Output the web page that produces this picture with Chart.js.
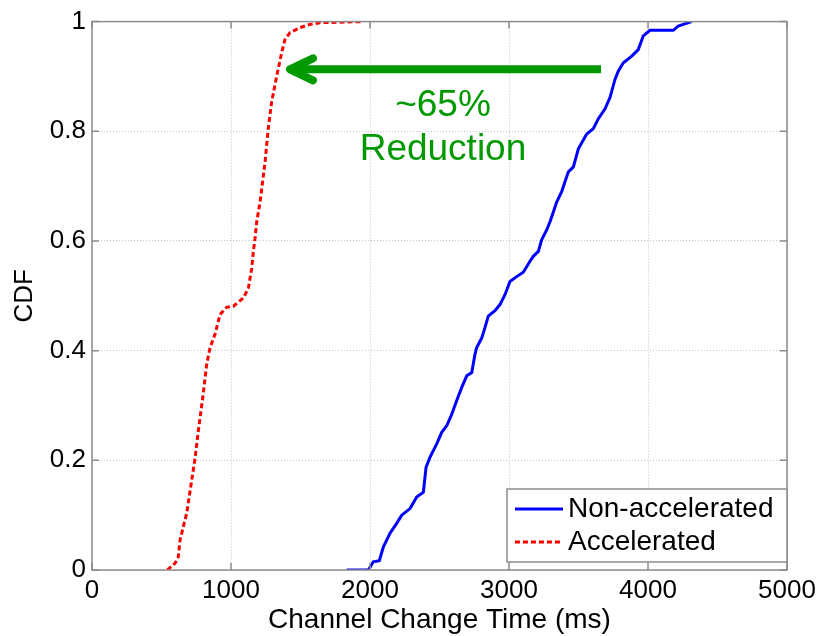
<!DOCTYPE html>
<html><head><meta charset="utf-8">
<script src="https://cdn.jsdelivr.net/npm/chart.js@4"></script>
<style>html,body{margin:0;padding:0;background:#fff}#wrap{width:824px;height:636px}</style>
</head><body><div id="wrap"><canvas id="c" width="824" height="636"></canvas></div>
<script>
// ---- data ----
const nonAccelX = [1832,1988,2024,2067,2096,2144,2192,2228,2288,2336,2384,2403,2432,2480,2516,2552,2588,2624,2660,2696,2732,2755,2767,2804,2827,2851,2899,2935,2971,3007,3055,3103,3151,3175,3211,3235,3271,3295,3319,3343,3379,3427,3463,3499,3559,3607,3643,3691,3727,3763,3787,3823,3883,3930,3966,4014,4182,4218,4254,4314];
const nonAccelY = [0,0,0.015,0.017,0.042,0.067,0.085,0.1,0.112,0.133,0.142,0.187,0.206,0.23,0.251,0.263,0.284,0.309,0.333,0.354,0.36,0.393,0.405,0.423,0.442,0.463,0.473,0.484,0.502,0.526,0.535,0.543,0.563,0.572,0.581,0.602,0.62,0.635,0.653,0.671,0.69,0.726,0.735,0.768,0.795,0.805,0.823,0.841,0.862,0.895,0.91,0.925,0.937,0.949,0.974,0.984,0.984,0.992,0.995,1];
const accelX = [542,597,621,633,657,681,717,741,765,797,825,849,885,921,969,1017,1089,1125,1149,1161,1173,1185,1209,1245,1268,1292,1329,1365,1388,1424,1496,1568,1640,1940];
const accelY = [0,0.012,0.024,0.054,0.079,0.103,0.163,0.203,0.254,0.315,0.375,0.405,0.43,0.466,0.479,0.481,0.496,0.514,0.55,0.581,0.605,0.635,0.671,0.744,0.805,0.853,0.901,0.944,0.967,0.98,0.989,0.995,0.998,1];
const xTicks = [0,1000,2000,3000,4000,5000];
const yTicks = [0,0.2,0.4,0.6,0.8,1];
const seriesNames = ['Non-accelerated','Accelerated'];
const annotationText = ['~65%','Reduction'];
const arrowStart = {x:3662, y:0.913};
const arrowEnd = {x:1417, y:0.913};
const annotationCenter = {x:2525, lineY:[0.846,0.766]};

const FONT = '"Liberation Sans", Arial, sans-serif';
const GREEN = '#009900';

function toPts(xs, ys){ return xs.map((x,i)=>({x:x, y:ys[i]})); }

const framePlugin = {
  id:'frame',
  afterDraw(chart){
    const {ctx, chartArea:a, scales:{x,y}} = chart;
    ctx.save();
    // frame
    ctx.strokeStyle = '#8c8c8c';
    ctx.lineWidth = 1.5;
    ctx.strokeRect(a.left, a.top, a.right-a.left, a.bottom-a.top);
    // inward ticks
    ctx.beginPath();
    const tl = 7;
    xTicks.forEach(v=>{
      const px = x.getPixelForValue(v);
      ctx.moveTo(px, a.bottom); ctx.lineTo(px, a.bottom-tl);
      ctx.moveTo(px, a.top); ctx.lineTo(px, a.top+tl);
    });
    yTicks.forEach(v=>{
      const py = y.getPixelForValue(v);
      ctx.moveTo(a.left, py); ctx.lineTo(a.left+tl, py);
      ctx.moveTo(a.right, py); ctx.lineTo(a.right-tl, py);
    });
    ctx.stroke();

    // arrow annotation
    const x0 = x.getPixelForValue(arrowStart.x), y0 = y.getPixelForValue(arrowStart.y);
    const x1 = x.getPixelForValue(arrowEnd.x), y1 = y.getPixelForValue(arrowEnd.y);
    ctx.strokeStyle = GREEN;
    ctx.lineWidth = 8;
    ctx.lineCap = 'butt';
    ctx.beginPath(); ctx.moveTo(x0,y0); ctx.lineTo(x1+4,y1); ctx.stroke();
    ctx.lineCap = 'round'; ctx.lineJoin = 'round';
    ctx.beginPath();
    ctx.moveTo(x1+24, y1-11); ctx.lineTo(x1+1, y1); ctx.lineTo(x1+24, y1+11);
    ctx.stroke();

    // annotation text
    ctx.fillStyle = GREEN;
    ctx.font = '37px ' + FONT;
    ctx.textAlign = 'center'; ctx.textBaseline = 'middle';
    const cx = x.getPixelForValue(annotationCenter.x);
    annotationText.forEach((t,i)=>{
      ctx.fillText(t, cx, y.getPixelForValue(annotationCenter.lineY[i]));
    });

    // legend
    const ds = chart.data.datasets;
    const L = 507, T = 489, R = a.right, B = 562;
    ctx.fillStyle = '#ffffff';
    ctx.fillRect(L, T, R-L, B-T);
    ctx.strokeStyle = '#8c8c8c'; ctx.lineWidth = 1.5; ctx.lineCap='butt';
    ctx.strokeRect(L, T, R-L, B-T);
    const rows = [509, 542];
    ds.forEach((d,i)=>{
      ctx.strokeStyle = d.borderColor; ctx.lineWidth = d.borderWidth;
      ctx.setLineDash(d.borderDash || []);
      ctx.beginPath(); ctx.moveTo(L+8, rows[i]); ctx.lineTo(L+56, rows[i]); ctx.stroke();
      ctx.setLineDash([]);
      ctx.fillStyle = '#000';
      ctx.font = '28px ' + FONT;
      ctx.textAlign = 'left'; ctx.textBaseline = 'middle';
      ctx.fillText(d.label, L+61, rows[i]);
    });
    ctx.restore();
  }
};

new Chart(document.getElementById('c'), {
  type:'line',
  data:{
    datasets:[
      {label:seriesNames[0], data:toPts(nonAccelX,nonAccelY), borderColor:'#0000ff', borderWidth:3, pointRadius:0, tension:0, fill:false},
      {label:seriesNames[1], data:toPts(accelX,accelY), borderColor:'#ff0000', borderWidth:3, borderDash:[5,3], pointRadius:0, tension:0, fill:false}
    ]
  },
  options:{
    responsive:false, animation:false, devicePixelRatio:1,
    layout:{padding:{top:19, right:37, left:0, bottom:0}},
    plugins:{legend:{display:false}, tooltip:{enabled:false}},
    scales:{
      x:{
        type:'linear', min:0, max:5000,
        afterBuildTicks(s){ s.ticks = xTicks.map(v=>({value:v})); },
        afterFit(s){ s.height = 66; },
        grid:{color:'#c4c4c4', lineWidth:1, drawTicks:false},
        border:{display:false, dash:[1,2]},
        ticks:{color:'#000', font:{family:FONT, size:26}, padding:5, maxRotation:0, autoSkip:false, callback:(v)=>String(v)},
        title:{display:true, text:'Channel Change Time (ms)', color:'#000', font:{family:FONT, size:28, lineHeight:1}, padding:{top:0,bottom:2}}
      },
      y:{
        type:'linear', min:0, max:1,
        afterBuildTicks(s){ s.ticks = yTicks.map(v=>({value:v})); },
        afterFit(s){ s.width = 92; },
        grid:{color:'#c4c4c4', lineWidth:1, drawTicks:false},
        border:{display:false, dash:[1,2]},
        ticks:{color:'#000', font:{family:FONT, size:26}, padding:6, autoSkip:false, callback:(v)=>String(+v.toFixed(1))},
        title:{display:true, text:'CDF', color:'#000', font:{family:FONT, size:26, lineHeight:1}, padding:{top:12,bottom:0}}
      }
    }
  },
  plugins:[framePlugin]
});
</script></body></html>
